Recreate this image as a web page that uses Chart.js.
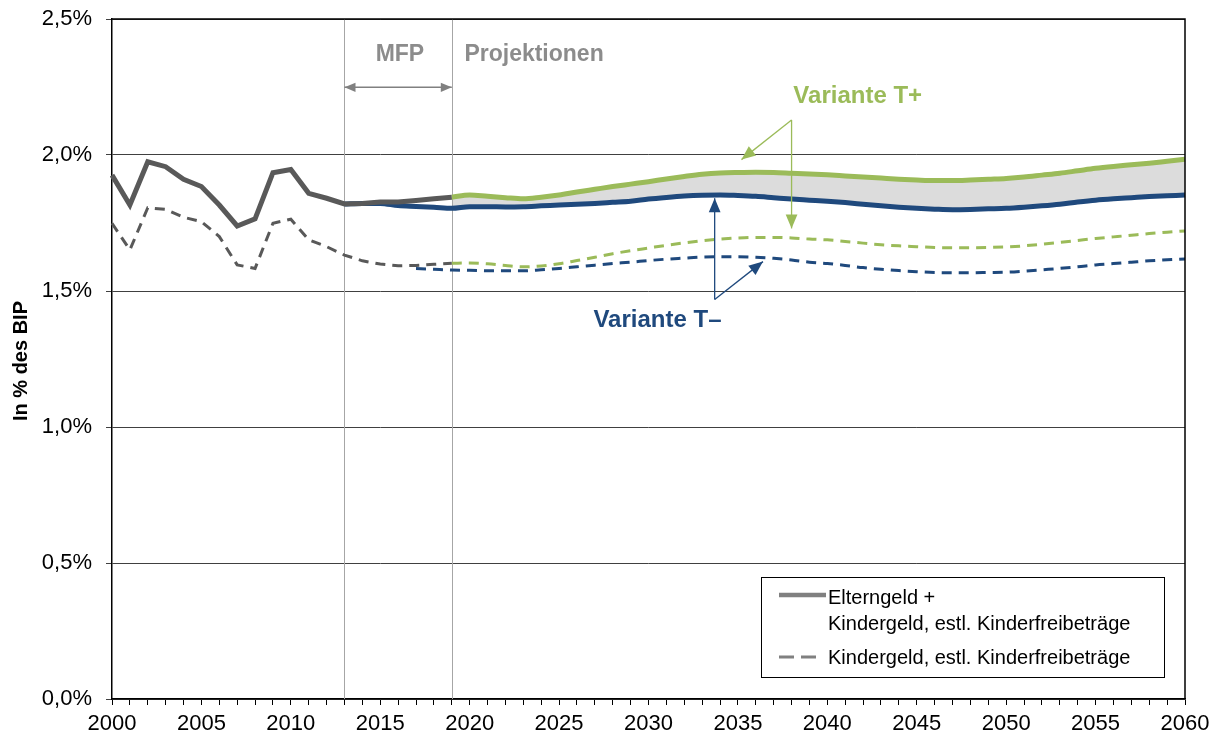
<!DOCTYPE html>
<html lang="de">
<head>
<meta charset="utf-8">
<title>Elterngeld und Kindergeld in % des BIP</title>
<script src="https://cdn.jsdelivr.net/npm/chart.js@4.4.1/dist/chart.umd.min.js"></script>
<style>
  html, body { margin: 0; padding: 0; background: #fff; }
  #wrap { width: 1216px; height: 740px; position: relative; }
</style>
</head>
<body>
<div id="wrap"><canvas id="grafikBIP"></canvas></div>
<script>
// -------------------------------------------------------
// Daten (in % des BIP)
// -------------------------------------------------------

const startJahr = 2000;
const endJahr = 2060;
const jahre = [];
for (let j = startJahr; j <= endJahr; j++) jahre.push(String(j));

// Elterngeld + Kindergeld, estl. Kinderfreibeträge, Ist-Werte 2000-2019
const gesamtIst = [
  1.926, 1.816, 1.975, 1.957, 1.911, 1.884, 1.816, 1.739, 1.765, 1.935,
  1.947, 1.859, 1.841, 1.820, 1.822, 1.827, 1.827, 1.833, 1.839, 1.845
];

// Kindergeld, estl. Kinderfreibeträge, Ist-Werte 2000-2019
const kindergeldIst = [
  1.749, 1.651, 1.806, 1.800, 1.771, 1.755, 1.700, 1.596, 1.583, 1.749,
  1.764, 1.688, 1.663, 1.632, 1.611, 1.599, 1.593, 1.594, 1.598, 1.602
];

// Variante T+ gesamt, 2019-2060
const gesamtTPlus = [
  1.845,
  1.853, 1.848, 1.843, 1.839, 1.845, 1.853, 1.864, 1.874, 1.884, 1.893,
  1.902, 1.912, 1.921, 1.929, 1.934, 1.936, 1.937, 1.936, 1.933, 1.930,
  1.927, 1.923, 1.919, 1.915, 1.911, 1.908, 1.906, 1.906, 1.908, 1.911,
  1.914, 1.919, 1.926, 1.933, 1.942, 1.951, 1.958, 1.964, 1.970, 1.977,
  1.984
];

// Variante T- gesamt, 2013-2060
const gesamtTMinus = [
  1.820, 1.822, 1.822, 1.814, 1.811, 1.808, 1.804,
  1.810, 1.810, 1.809, 1.810, 1.813, 1.816, 1.819, 1.822, 1.826, 1.830,
  1.838, 1.844, 1.849, 1.852, 1.853, 1.851, 1.848, 1.843, 1.838, 1.834,
  1.830, 1.825, 1.819, 1.813, 1.808, 1.804, 1.801, 1.799, 1.800, 1.802,
  1.804, 1.808, 1.813, 1.819, 1.827, 1.834, 1.839, 1.843, 1.847, 1.850,
  1.853
];

// Variante T+ Kindergeld, 2019-2060
const kindergeldTPlus = [
  1.602,
  1.603, 1.600, 1.594, 1.589, 1.592, 1.600, 1.612, 1.624, 1.637, 1.648,
  1.658, 1.668, 1.677, 1.685, 1.691, 1.695, 1.697, 1.697, 1.695, 1.691,
  1.688, 1.682, 1.676, 1.670, 1.666, 1.663, 1.660, 1.659, 1.659, 1.660,
  1.662, 1.666, 1.672, 1.679, 1.686, 1.693, 1.699, 1.705, 1.711, 1.716,
  1.721
];

// Variante T- Kindergeld, 2017-2060
const kindergeldTMinus = [
  1.583, 1.580, 1.577,
  1.576, 1.574, 1.574, 1.574, 1.578, 1.583, 1.589, 1.595, 1.601, 1.606,
  1.612, 1.617, 1.621, 1.625, 1.626, 1.626, 1.624, 1.620, 1.614, 1.606,
  1.601, 1.594, 1.586, 1.580, 1.575, 1.571, 1.568, 1.567, 1.567, 1.568,
  1.569, 1.573, 1.578, 1.583, 1.589, 1.596, 1.601, 1.606, 1.611, 1.615,
  1.618
];

const yTicks = [0, 0.5, 1.0, 1.5, 2.0, 2.5];

// Reihe auf die volle Jahresachse legen (null vor dem Startjahr)
function aufAchse(ab, werte) {
  const out = jahre.map(() => null);
  werte.forEach((v, i) => { out[ab - startJahr + i] = v; });
  return out;
}

// Farben
const GRAU = '#595959';
const GRUEN = '#9bbb59';
const BLAU = '#1f497d';
const BAND = '#dcdcdc';
const SCHRIFT = '"Liberation Sans", Arial, sans-serif';

// -------------------------------------------------------
// Zusatz-Zeichnungen: Rahmen, MFP-Linien, Pfeile, Legende
// -------------------------------------------------------
function pfeil(ctx, x1, y1, x2, y2, farbe, kopf, beideEnden) {
  ctx.save();
  ctx.strokeStyle = farbe;
  ctx.fillStyle = farbe;
  ctx.lineWidth = 1.3;
  ctx.beginPath();
  ctx.moveTo(x1, y1);
  ctx.lineTo(x2, y2);
  ctx.stroke();
  const spitze = (ax, ay, bx, by) => {
    const w = Math.atan2(by - ay, bx - ax);
    ctx.beginPath();
    ctx.moveTo(bx, by);
    ctx.lineTo(bx - kopf * Math.cos(w) + kopf * 0.42 * Math.sin(w), by - kopf * Math.sin(w) - kopf * 0.42 * Math.cos(w));
    ctx.lineTo(bx - kopf * Math.cos(w) - kopf * 0.42 * Math.sin(w), by - kopf * Math.sin(w) + kopf * 0.42 * Math.cos(w));
    ctx.closePath();
    ctx.fill();
  };
  spitze(x1, y1, x2, y2);
  if (beideEnden) spitze(x2, y2, x1, y1);
  ctx.restore();
}

const zusatzPlugin = {
  id: 'zusatz',
  beforeDatasetsDraw(chart) {
    const { ctx, chartArea: a, scales: { x, y } } = chart;
    ctx.save();
    ctx.strokeStyle = '#a6a6a6';
    ctx.lineWidth = 1;
    [2013, 2019].forEach(j => {
      const px = Math.round(x.getPixelForValue(j - startJahr)) + 0.5;
      ctx.beginPath();
      ctx.moveTo(px, a.top);
      ctx.lineTo(px, a.bottom);
      ctx.stroke();
    });
    ctx.restore();
  },
  afterDatasetsDraw(chart) {
    const { ctx, chartArea: a, scales: { x, y } } = chart;
    const px = j => x.getPixelForValue(j - startJahr);
    const py = v => y.getPixelForValue(v);

    // Rahmen oben/rechts
    ctx.save();
    ctx.strokeStyle = '#000';
    ctx.lineWidth = 1.5;
    ctx.beginPath();
    ctx.moveTo(a.left, a.top);
    ctx.lineTo(a.right, a.top);
    ctx.lineTo(a.right, a.bottom);
    ctx.stroke();
    ctx.restore();

    // MFP / Projektionen
    pfeil(ctx, px(2013), py(2.249), px(2019), py(2.249), '#808080', 11, true);
    ctx.save();
    ctx.font = 'bold 23px ' + SCHRIFT;
    ctx.fillStyle = '#8c8c8c';
    ctx.textAlign = 'center';
    ctx.textBaseline = 'middle';
    ctx.fillText('MFP', px(2016.1), py(2.368));
    ctx.fillText('Projektionen', px(2023.6), py(2.368));

    // Variante T+
    ctx.font = 'bold 24px ' + SCHRIFT;
    ctx.fillStyle = GRUEN;
    ctx.fillText('Variante T+', px(2041.7), py(2.215));
    // Variante T-
    ctx.fillStyle = BLAU;
    ctx.fillText('Variante T\u2013', px(2030.5), py(1.393));
    ctx.restore();

    pfeil(ctx, px(2038.0), py(2.129), px(2035.2), py(1.983), GRUEN, 14);
    pfeil(ctx, px(2038.0), py(2.129), px(2038.0), py(1.730), GRUEN, 14);
    pfeil(ctx, px(2033.7), py(1.469), px(2033.7), py(1.841), BLAU, 14);
    pfeil(ctx, px(2033.7), py(1.469), px(2036.4), py(1.608), BLAU, 14);

    // Y-Achsentitel
    ctx.save();
    ctx.font = 'bold 20px ' + SCHRIFT;
    ctx.fillStyle = '#000';
    ctx.textAlign = 'center';
    ctx.textBaseline = 'middle';
    ctx.translate(21, (a.top + a.bottom) / 2 + 2);
    ctx.rotate(-Math.PI / 2);
    ctx.fillText('In % des BIP', 0, 0);
    ctx.restore();

    // Legende
    const lx = 761, ly = 577, lw = 403, lh = 100;
    ctx.save();
    ctx.fillStyle = '#fff';
    ctx.fillRect(lx, ly, lw, lh);
    ctx.strokeStyle = '#000';
    ctx.lineWidth = 1;
    ctx.strokeRect(lx + 0.5, ly + 0.5, lw, lh);
    ctx.strokeStyle = '#808080';
    ctx.lineWidth = 4.5;
    ctx.beginPath();
    ctx.moveTo(779, 595);
    ctx.lineTo(826, 595);
    ctx.stroke();
    ctx.lineWidth = 3;
    ctx.beginPath();
    ctx.moveTo(779, 657); ctx.lineTo(794, 657);
    ctx.moveTo(801, 657); ctx.lineTo(816, 657);
    ctx.stroke();
    ctx.font = '20px ' + SCHRIFT;
    ctx.fillStyle = '#000';
    ctx.textAlign = 'left';
    ctx.textBaseline = 'middle';
    ctx.fillText('Elterngeld +', 828, 598);
    ctx.fillText('Kindergeld, estl. Kinderfreibeträge', 828, 624);
    ctx.fillText('Kindergeld, estl. Kinderfreibeträge', 828, 658);
    ctx.restore();
  }
};

// -------------------------------------------------------
// Diagramm
// -------------------------------------------------------
const linie = (daten, farbe, breite, extra) => Object.assign({
  data: daten,
  borderColor: farbe,
  backgroundColor: farbe,
  borderWidth: breite,
  pointRadius: 0,
  pointHoverRadius: 0,
  fill: false,
  spanGaps: false
}, extra || {});

const datenBIP = {
  labels: jahre,
  datasets: [
    linie(aufAchse(2000, gesamtIst), GRAU, 5, { tension: 0 }),
    linie(aufAchse(2019, gesamtTPlus), GRUEN, 5, {
      cubicInterpolationMode: 'monotone',
      fill: { target: 2 },
      backgroundColor: BAND
    }),
    linie(aufAchse(2013, gesamtTMinus), BLAU, 5, { cubicInterpolationMode: 'monotone' }),
    linie(aufAchse(2000, kindergeldIst), GRAU, 3, { borderDash: [10, 7], tension: 0 }),
    linie(aufAchse(2019, kindergeldTPlus), GRUEN, 3, { borderDash: [10, 7], cubicInterpolationMode: 'monotone' }),
    linie(aufAchse(2017, kindergeldTMinus), BLAU, 3, { borderDash: [10, 7], cubicInterpolationMode: 'monotone' })
  ]
};

const configBIP = {
  type: 'line',
  data: datenBIP,
  options: {
    responsive: false,
    animation: false,
    layout: { padding: { top: 19, right: 31, left: 0, bottom: 0 } },
    plugins: {
      legend: { display: false },
      tooltip: { enabled: false },
      title: { display: false },
      filler: { drawTime: 'beforeDatasetsDraw' }
    },
    scales: {
      x: {
        type: 'category',
        offset: false,
        afterFit: s => {
          s.height = 41;
          s.paddingLeft = 0;
          s.paddingRight = 0;
        },
        grid: {
          drawOnChartArea: false,
          drawTicks: true,
          tickLength: 6,
          color: '#000'
        },
        border: { color: '#000', width: 1.5 },
        ticks: {
          autoSkip: false,
          maxRotation: 0,
          minRotation: 0,
          padding: 6,
          color: '#000',
          font: { family: SCHRIFT, size: 22 },
          callback: function (val, idx) {
            const j = Number(jahre[idx]);
            return j % 5 === 0 ? String(j) : '';
          }
        }
      },
      y: {
        min: 0,
        max: 2.5,
        afterFit: s => {
          s.width = 112;
          s.paddingTop = 0;
          s.paddingBottom = 0;
        },
        afterBuildTicks: s => { s.ticks = yTicks.map(v => ({ value: v })); },
        grid: {
          color: '#404040',
          lineWidth: 1,
          tickLength: 6
        },
        border: { color: '#000', width: 1.5 },
        ticks: {
          padding: 14,
          color: '#000',
          font: { family: SCHRIFT, size: 22 },
          callback: v => v.toFixed(1).replace('.', ',') + '%'
        }
      }
    }
  },
  plugins: [zusatzPlugin]
};

const canvasBIP = document.getElementById('grafikBIP');
canvasBIP.width = 1216;
canvasBIP.height = 740;
new Chart(canvasBIP.getContext('2d'), configBIP);
</script>
</body>
</html>
